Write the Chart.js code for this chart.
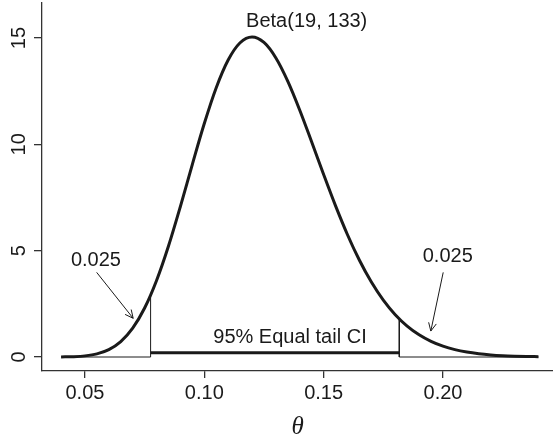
<!DOCTYPE html>
<html>
<head>
<meta charset="utf-8">
<script src="https://cdn.jsdelivr.net/npm/chart.js@4/dist/chart.umd.min.js"></script>
<style>
html, body { margin: 0; padding: 0; background: #fff; }
</style>
</head>
<body>
<canvas id="grafico" width="553" height="440"></canvas>
<script>
// Densidad Beta(19, 133)
const theta = [0.040, 0.045, 0.050, 0.055, 0.060, 0.065, 0.070, 0.075, 0.080, 0.085,
               0.090, 0.095, 0.100, 0.105, 0.110, 0.115, 0.120, 0.125, 0.130, 0.135,
               0.140, 0.145, 0.150, 0.155, 0.160, 0.165, 0.170, 0.175, 0.180, 0.185,
               0.190, 0.195, 0.200, 0.205, 0.210, 0.215, 0.220, 0.225, 0.230, 0.235, 0.240];
const densidad = [0.004, 0.016, 0.053, 0.146, 0.347, 0.725, 1.356, 2.303, 3.599, 5.220,
                  7.085, 9.062, 10.978, 12.664, 13.966, 14.777, 15.05, 14.791, 14.063, 12.961,
                  11.605, 10.109, 8.580, 7.105, 5.749, 4.548, 3.523, 2.674, 1.990, 1.454,
                  1.043, 0.735, 0.509, 0.347, 0.233, 0.154, 0.100, 0.064, 0.041, 0.025, 0.016];

// Intervalo de colas iguales
const ciLimites = [0.0775, 0.1817];
const ciAltura = [2.85, 1.78];   // densidad en cada limite
const ciNivel = 0.2;
const colaIzq = [0.040, 0.0775];
const colaDer = [0.1817, 0.240];

const xTicks = [0.05, 0.10, 0.15, 0.20];
const yTicks = [0, 5, 10, 15];

// Textos y flechas (en coordenadas de datos)
const textos = [
    { txt: 'Beta(19, 133)', x: 0.1429, y: 15.78 },
    { txt: '0.025', x: 0.0546, y: 4.56 },
    { txt: '0.025', x: 0.2020, y: 4.75 },
    { txt: '95% Equal tail CI', x: 0.1359, y: 0.94 }
];
const flechas = [
    { x0: 0.0549, y0: 3.98, x1: 0.0702, y1: 1.82 },
    { x0: 0.2001, y0: 3.98, x1: 0.1949, y1: 1.22 }
];

const tinta = '#1a1a1a';
const fuente = '20px "Liberation Sans", Arial, sans-serif';

let curva = theta.map((t, i) => ({ x: t, y: densidad[i] }));

const anotaciones = {
    id: 'anotaciones',
    afterDatasetsDraw(chart) {
        const { ctx, scales: { x, y } } = chart;
        ctx.save();
        ctx.fillStyle = tinta;
        ctx.strokeStyle = tinta;
        ctx.font = fuente;

        // etiquetas del eje y giradas, como en R
        yTicks.forEach(v => {
            ctx.save();
            ctx.translate(y.right - 23, y.getPixelForValue(v));
            ctx.rotate(-Math.PI / 2);
            ctx.textAlign = 'center';
            ctx.textBaseline = 'middle';
            ctx.fillText(String(v), 0, 0);
            ctx.restore();
        });

        ctx.textAlign = 'center';
        ctx.textBaseline = 'middle';
        textos.forEach(t => {
            ctx.fillText(t.txt, x.getPixelForValue(t.x), y.getPixelForValue(t.y));
        });

        // flechas
        ctx.lineWidth = 1;
        flechas.forEach(f => {
            let px0 = x.getPixelForValue(f.x0), py0 = y.getPixelForValue(f.y0);
            let px1 = x.getPixelForValue(f.x1), py1 = y.getPixelForValue(f.y1);
            let ang = Math.atan2(py1 - py0, px1 - px0);
            ctx.beginPath();
            ctx.moveTo(px0, py0);
            ctx.lineTo(px1, py1);
            ctx.moveTo(px1 - 9 * Math.cos(ang - 0.45), py1 - 9 * Math.sin(ang - 0.45));
            ctx.lineTo(px1, py1);
            ctx.lineTo(px1 - 9 * Math.cos(ang + 0.45), py1 - 9 * Math.sin(ang + 0.45));
            ctx.stroke();
        });

        // titulo del eje x
        ctx.font = 'italic 25px "Liberation Serif", "DejaVu Serif", serif';
        ctx.fillText('θ', x.getPixelForValue(0.1391), 427);
        ctx.restore();
    }
};

var data = {
    datasets: [
        {
            data: curva,
            borderColor: tinta,
            borderWidth: 3,
            pointRadius: 0,
            cubicInterpolationMode: 'monotone'
        },
        {
            // cola izquierda
            data: [{ x: colaIzq[0], y: 0 }, { x: colaIzq[1], y: 0 }, { x: ciLimites[0], y: ciAltura[0] }],
            borderColor: tinta,
            borderWidth: 1,
            pointRadius: 0
        },
        {
            // cola derecha
            data: [{ x: ciLimites[1], y: ciAltura[1] }, { x: colaDer[0], y: 0 }, { x: colaDer[1], y: 0 }],
            borderColor: tinta,
            borderWidth: 1,
            pointRadius: 0
        },
        {
            // intervalo
            data: [{ x: ciLimites[0], y: ciNivel }, { x: ciLimites[1], y: ciNivel }],
            borderColor: tinta,
            borderWidth: 3,
            pointRadius: 0
        }
    ]
};

var options = {
    responsive: false,
    animation: false,
    layout: { padding: { top: 3, right: 0, left: 0, bottom: 0 } },
    plugins: { legend: { display: false }, tooltip: { enabled: false } },
    scales: {
        x: {
            type: 'linear',
            min: 0.032,
            max: 0.2461,
            afterBuildTicks: s => { s.ticks = xTicks.map(v => ({ value: v })); },
            afterFit: s => { s.height = 69; },
            ticks: {
                color: tinta,
                font: { family: '"Liberation Sans", Arial, sans-serif', size: 20 },
                padding: 3,
                maxRotation: 0,
                callback: v => v.toFixed(2)
            },
            grid: { drawOnChartArea: false, drawTicks: true, tickLength: 7, color: '#333', lineWidth: 1.3 },
            border: { display: true, color: '#333', width: 1.3 }
        },
        y: {
            type: 'linear',
            min: -0.658,
            max: 16.646,
            afterBuildTicks: s => { s.ticks = yTicks.map(v => ({ value: v })); },
            afterFit: s => { s.width = 42; },
            ticks: { display: false },
            grid: { drawOnChartArea: false, drawTicks: true, tickLength: 8, color: '#333', lineWidth: 1.3 },
            border: { display: true, color: '#333', width: 1.3 }
        }
    }
};

var grafico = new Chart(document.getElementById('grafico').getContext('2d'), {
    type: 'line',
    data: data,
    options: options,
    plugins: [anotaciones]
});
</script>
</body>
</html>
